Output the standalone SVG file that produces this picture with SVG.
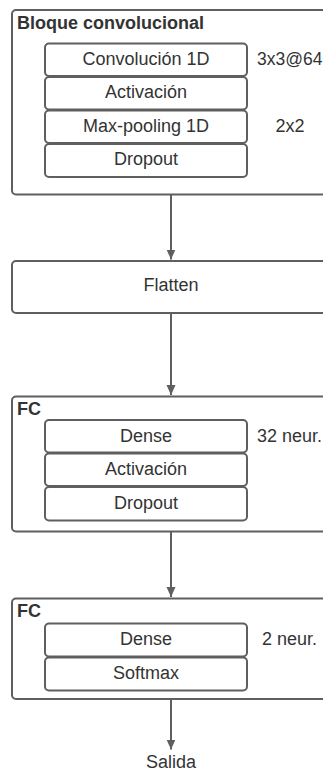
<svg xmlns="http://www.w3.org/2000/svg" width="323" height="773" viewBox="0 0 323 773">
<defs>
<style>
.outer{fill:#fff;stroke:#5f5f5f;stroke-width:2}
.inner{fill:#fff;stroke:#5f5f5f;stroke-width:2}
.t{font-family:"Liberation Sans",Arial,sans-serif;font-size:18px;fill:#333}
.c{text-anchor:middle}
.b{font-weight:bold;fill:#333}
.ln{stroke:#5f5f5f;stroke-width:2;fill:none}
</style>
<marker id="ah" viewBox="0 0 10 16" refX="10" refY="8" markerWidth="10" markerHeight="16" markerUnits="userSpaceOnUse" orient="auto">
<path d="M0,3.5 L10,8 L0,12.5 Z" fill="#5f5f5f"/>
</marker>
</defs>
<rect width="323" height="773" fill="#fff"/>
<g id="connectors">
<line class="ln" x1="171" y1="195" x2="171" y2="259.5" marker-end="url(#ah)"/>
<line class="ln" x1="171" y1="313" x2="171" y2="395" marker-end="url(#ah)"/>
<line class="ln" x1="171" y1="532" x2="171" y2="597" marker-end="url(#ah)"/>
<line class="ln" x1="171" y1="699" x2="171" y2="749.5" marker-end="url(#ah)"/>
</g>
<g id="bloque-convolucional">
<rect class="outer" x="12" y="10" width="330" height="184.5" rx="4"/>
<text class="t b" x="17" y="28.5">Bloque convolucional</text>
<g id="conv1d">
<rect class="inner" x="45" y="43.5" width="202" height="32.5" rx="4"/>
<text class="t c" x="146" y="65">Convolución 1D</text>
</g>
<g id="activacion1">
<rect class="inner" x="45" y="77" width="202" height="32.5" rx="4"/>
<text class="t c" x="146" y="98">Activación</text>
</g>
<g id="maxpool">
<rect class="inner" x="45" y="110.5" width="202" height="32.5" rx="4"/>
<text class="t c" x="146" y="131.5">Max-pooling 1D</text>
</g>
<g id="dropout1">
<rect class="inner" x="45" y="144" width="202" height="33" rx="4"/>
<text class="t c" x="146" y="165">Dropout</text>
</g>
<text class="t" x="257" y="65" style="font-size:17.5px">3x3@64</text>
<text class="t c" x="290" y="131.5">2x2</text>
</g>
<g id="flatten">
<rect class="outer" x="12" y="261" width="330" height="52" rx="4"/>
<text class="t c" x="171" y="291">Flatten</text>
</g>
<g id="fc1">
<rect class="outer" x="12" y="396.5" width="330" height="135" rx="4"/>
<text class="t b" x="17" y="415">FC</text>
<g id="dense1">
<rect class="inner" x="45" y="420" width="202" height="32.5" rx="4"/>
<text class="t c" x="146" y="441.5">Dense</text>
</g>
<g id="activacion2">
<rect class="inner" x="45" y="453.5" width="202" height="32.5" rx="4"/>
<text class="t c" x="146" y="475">Activación</text>
</g>
<g id="dropout2">
<rect class="inner" x="45" y="487" width="202" height="33.5" rx="4"/>
<text class="t c" x="146" y="508.5">Dropout</text>
</g>
<text class="t" x="257" y="441.5">32 neur.</text>
</g>
<g id="fc2">
<rect class="outer" x="12" y="598.5" width="330" height="100.5" rx="4"/>
<text class="t b" x="17" y="617">FC</text>
<g id="dense2">
<rect class="inner" x="45" y="623.5" width="202" height="33" rx="4"/>
<text class="t c" x="146" y="645">Dense</text>
</g>
<g id="softmax">
<rect class="inner" x="45" y="657.5" width="202" height="33" rx="4"/>
<text class="t c" x="146" y="678.5">Softmax</text>
</g>
<text class="t" x="262" y="645">2 neur.</text>
</g>
<g id="salida">
<text class="t c" x="171" y="768">Salida</text>
</g>
</svg>
